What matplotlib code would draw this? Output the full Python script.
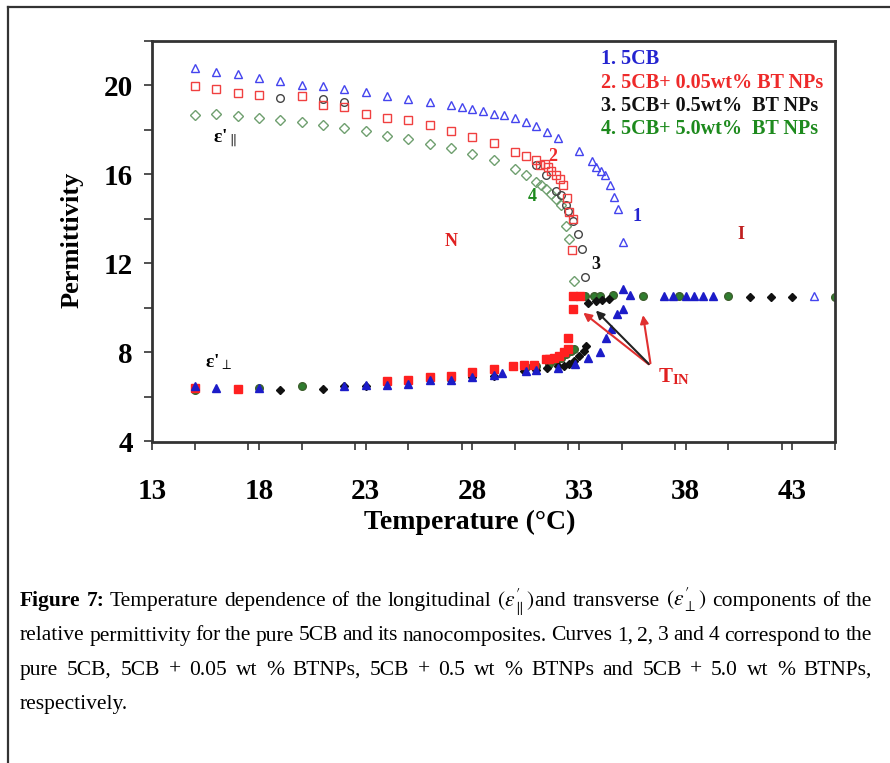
import numpy as np
import matplotlib
matplotlib.use("Agg")
import matplotlib.pyplot as plt
from matplotlib.lines import Line2D
from matplotlib.ticker import MultipleLocator

plt.rcParams['font.family'] = ['Liberation Serif', 'DejaVu Serif']
plt.rcParams['mathtext.fontset'] = 'stix'

# --- data (T in degC, permittivity) ---
# curve 1: pure 5CB
s1_par_T = [15, 16, 17, 18, 19, 20, 21, 22, 23, 24, 25, 26, 27, 27.5, 28, 28.5, 29, 29.5, 30,
            30.5, 31, 31.5, 32, 33, 33.6, 33.8, 34.05, 34.2, 34.45, 34.65, 34.85, 35.05, 44]
s1_par = [20.78, 20.6, 20.5, 20.33, 20.2, 19.99, 19.95, 19.82, 19.7, 19.52, 19.36, 19.25, 19.13,
          19.03, 18.95, 18.83, 18.73, 18.68, 18.53, 18.35, 18.17, 17.9, 17.63, 17.03, 16.58, 16.32,
          16.13, 15.95, 15.5, 14.97, 14.45, 12.95, 10.55]
s1_perp_T = [15, 16, 18, 22, 23, 24, 25, 26, 27, 28, 29, 29.4, 30.5, 31, 32, 32.8, 33.4, 34.0,
             34.25, 34.5, 34.8, 35.05, 35.05, 35.4, 37.0, 37.4, 38.0, 38.4, 38.8, 39.3]
s1_perp = [6.5, 6.42, 6.42, 6.5, 6.52, 6.55, 6.56, 6.74, 6.77, 6.89, 6.97, 7.09, 7.17, 7.2, 7.3,
           7.5, 7.77, 8.0, 8.67, 9.04, 9.72, 9.95, 10.84, 10.6, 10.55, 10.55, 10.55, 10.55, 10.55, 10.55]

# curve 2: 5CB + 0.05 wt% BT NPs
s2_par_T = [15, 16, 17, 18, 20, 21, 22, 23, 24, 25, 26, 27, 28, 29, 30, 30.5, 31, 31.15, 31.4,
            31.55, 31.7, 31.9, 32.1, 32.25, 32.45, 32.55, 32.7, 32.65]
s2_par = [19.95, 19.82, 19.63, 19.55, 19.52, 19.1, 19.03, 18.73, 18.55, 18.45, 18.22, 17.96, 17.68,
          17.4, 17.0, 16.82, 16.62, 16.43, 16.47, 16.32, 16.17, 15.95, 15.77, 15.54, 14.93, 14.3,
          14.0, 12.61]
s2_perp_T = [15, 17, 24, 25, 26, 27, 28, 29, 29.9, 30.4, 30.9, 31.45, 31.6, 31.85, 32.08, 32.3,
             32.47, 32.5, 32.7, 32.7, 33.05]
s2_perp = [6.4, 6.34, 6.7, 6.77, 6.89, 6.95, 7.14, 7.24, 7.39, 7.42, 7.45, 7.69, 7.72, 7.77, 7.84,
           8.0, 8.14, 8.67, 9.95, 10.54, 10.54]

# curve 3: 5CB + 0.5 wt% BT NPs
s3_par_T = [19, 21, 22, 31.0, 31.45, 31.9, 32.15, 32.4, 32.5, 32.7, 32.95, 33.15, 33.3]
s3_par = [19.43, 19.36, 19.25, 16.4, 15.95, 15.27, 15.05, 14.6, 14.37, 13.92, 13.32, 12.64, 11.37]
s3_perp_T = [15, 19, 21, 22, 23, 27, 28, 29, 30.4, 31, 31.5, 32.0, 32.3, 32.55, 32.78, 33.02,
             33.25, 33.33, 33.4, 33.8, 34.1, 34.4, 41, 42, 43]
s3_perp = [6.4, 6.3, 6.34, 6.48, 6.5, 6.77, 6.89, 6.94, 7.17, 7.2, 7.3, 7.39, 7.39, 7.46, 7.61,
           7.84, 8.07, 8.27, 10.24, 10.3, 10.35, 10.4, 10.5, 10.5, 10.5]

# curve 4: 5CB + 5.0 wt% BT NPs
s4_par_T = [15, 16, 17, 18, 19, 20, 21, 22, 23, 24, 25, 26, 27, 28, 29, 30, 30.5, 31, 31.2, 31.45,
            31.7, 31.9, 32.15, 32.4, 32.55, 32.75]
s4_par = [18.68, 18.73, 18.62, 18.53, 18.45, 18.35, 18.23, 18.08, 17.93, 17.72, 17.58, 17.37, 17.2,
          16.92, 16.62, 16.25, 15.98, 15.65, 15.5, 15.35, 15.12, 14.9, 14.6, 13.7, 13.1, 11.22]
s4_perp_T = [15, 18, 20, 24, 25, 26, 27, 28, 29, 30.5, 31, 31.6, 31.92, 32.16, 32.39, 32.63,
             32.78, 33.3, 33.7, 34.0, 34.6, 36.0, 37.7, 40.0, 45]
s4_perp = [6.3, 6.42, 6.5, 6.7, 6.77, 6.89, 6.95, 7.1, 7.24, 7.35, 7.4, 7.5, 7.61, 7.77, 7.92,
           8.07, 8.14, 10.54, 10.54, 10.54, 10.6, 10.55, 10.55, 10.55, 10.5]

legend_labels = ["1. 5CB", "2. 5CB+ 0.05wt% BT NPs", "3. 5CB+ 0.5wt%  BT NPs", "4. 5CB+ 5.0wt%  BT NPs"]
legend_colors = ['#2424d0', '#ee2a2a', '#111111', '#1d8a1d']

caption = [
    [("Figure", 'bold'), ("7:", 'bold'), "Temperature", "dependence", "of", "the", "longitudinal",
     r"$(\varepsilon_{\parallel}^{\prime})$and", "transverse", r"$(\varepsilon_{\perp}^{\prime})$",
     "components", "of", "the"],
    "relative permittivity for the pure 5CB and its nanocomposites. Curves 1, 2, 3 and 4 correspond to the".split(),
    "pure 5CB, 5CB + 0.05 wt % BTNPs, 5CB + 0.5 wt % BTNPs and 5CB + 5.0 wt % BTNPs,".split(),
    ["respectively."],
]

W, H = 890, 763
fig = plt.figure(figsize=(W / 100, H / 100), dpi=100)
ax = fig.add_axes([152.3 / W, 1 - 441.5 / H, (835 - 152.3) / W, (441.5 - 40.7) / H])

ms = 5.5
# perpendicular (filled) markers
ax.plot(s4_perp_T, s4_perp, 'o', color='#2f7d2f', ms=ms, mec='#3d5f2d')
ax.plot(s3_perp_T, s3_perp, 'D', color='#111111', ms=ms - 1)
ax.plot(s2_perp_T, s2_perp, 's', color='#ff2020', ms=ms)
ax.plot(s1_perp_T, s1_perp, '^', color='#1c1cc8', ms=ms + 0.5)
# parallel (open) markers
ax.plot(s4_par_T, s4_par, 'D', mfc='none', mec='#6f9f6f', ms=ms - 0.5, mew=1)
ax.plot(s3_par_T, s3_par, 'o', mfc='none', mec='#444444', ms=ms, mew=1)
ax.plot(s2_par_T, s2_par, 's', mfc='none', mec='#f04040', ms=ms, mew=1)
ax.plot(s1_par_T, s1_par, '^', mfc='none', mec='#4444ee', ms=ms + 0.5, mew=1)

ax.set_xlim(13, 45)
ax.set_ylim(4, 22)
ax.set_xticks(np.arange(13, 44, 5))
ax.xaxis.set_minor_locator(MultipleLocator(2.5))
ax.set_yticks([4, 8, 12, 16, 20])
ax.yaxis.set_minor_locator(MultipleLocator(2))
ax.tick_params(which='both', direction='out', length=6, width=1.2, color='#333333')
ax.tick_params(axis='x', pad=20, labelsize=21)
ax.tick_params(axis='y', pad=8, labelsize=21)
for lab in ax.get_xticklabels() + ax.get_yticklabels():
    lab.set_fontweight('bold')
for sp in ax.spines.values():
    sp.set_linewidth(2)
    sp.set_color('#333333')

fig.text(72 / W, 1 - 240 / H, "Permittivity", rotation=90, ha='center', va='center',
         fontsize=19, fontweight='bold')
fig.text(470 / W, 1 - 522 / H, "Temperature (°C)", ha='center', va='center',
         fontsize=20, fontweight='bold')

# legend as coloured text
for i, (lab, c) in enumerate(zip(legend_labels, legend_colors)):
    ax.text(34.05, 21.16 - i * 1.04, lab, color=c, fontsize=14.5, fontweight='bold', va='center')

# curve / phase labels
ax.text(16.4, 17.6, "ε'$_{\\parallel}$", fontsize=14, fontweight='bold', ha='center', va='center')
ax.text(16.1, 7.55, "ε'$_{\\perp}$", fontsize=14, fontweight='bold', ha='center', va='center')
ax.text(27.0, 13.0, "N", color='#e02020', fontsize=13, fontweight='bold', ha='center', va='center')
ax.text(40.6, 13.3, "I", color='#c02020', fontsize=13, fontweight='bold', ha='center', va='center')
ax.text(35.7, 14.1, "1", color='#2424d0', fontsize=13, fontweight='bold', ha='center', va='center')
ax.text(31.75, 16.8, "2", color='#ee2a2a', fontsize=13, fontweight='bold', ha='center', va='center')
ax.text(33.8, 11.96, "3", color='#111111', fontsize=13, fontweight='bold', ha='center', va='center')
ax.text(30.8, 15.0, "4", color='#1d8a1d', fontsize=13, fontweight='bold', ha='center', va='center')

# T_IN arrows
origin = (36.37, 7.39)
for tip, c in [((33.1, 9.86), '#e03030'), ((33.7, 9.97), '#222222'), ((35.98, 9.8), '#e03030')]:
    ax.annotate('', xy=tip, xytext=origin,
                arrowprops=dict(arrowstyle='-|>', color=c, lw=1.5, mutation_scale=12))
ax.text(36.7, 6.9, r"T$_{\mathregular{IN}}$", color='#e02020', fontsize=15, fontweight='bold',
        va='center')

# outer frame of the page crop
fig.add_artist(Line2D([8 / W, 1], [1 - 7 / H, 1 - 7 / H], color='#333333', lw=1.6))
fig.add_artist(Line2D([8 / W, 8 / W], [0, 1 - 7 / H], color='#333333', lw=1.6))

# caption, justified like the page
renderer = fig.canvas.get_renderer()
x0, x1 = 20, 872
for k, words in enumerate(caption):
    y = 1 - (606 + k * 34.5) / H
    texts = []
    for w in words:
        if isinstance(w, tuple):
            t = fig.text(0, y, w[0], fontsize=15.5, fontweight=w[1])
        else:
            t = fig.text(0, y, w, fontsize=15.5)
        texts.append(t)
    widths = [t.get_window_extent(renderer).width for t in texts]
    if k < len(caption) - 1:
        gap = (x1 - x0 - sum(widths)) / (len(words) - 1)
    else:
        gap = 4
    x = x0
    for t, w in zip(texts, widths):
        t.set_x(x / W)
        x += w + gap

fig.savefig("out.png", dpi=100)
